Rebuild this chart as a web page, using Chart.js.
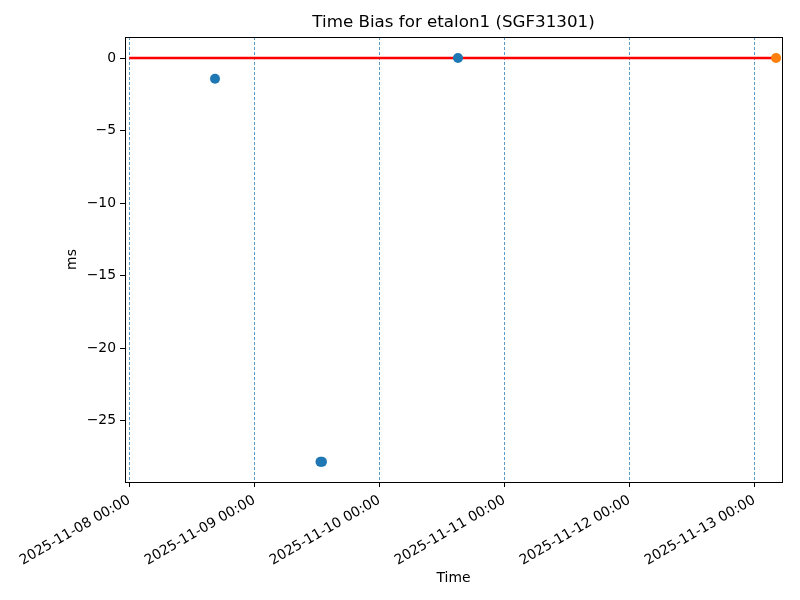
<!DOCTYPE html>
<html lang="en">
<head>
  <meta charset="UTF-8">
  <title>Time Bias for etalon1 (SGF31301)</title>
  <script src="https://cdn.jsdelivr.net/npm/chart.js"></script>
  <style>
    body { margin: 0; background: #fff; }
    #wrap { width: 800px; height: 600px; }
  </style>
</head>
<body>
  <div id="wrap"><canvas id="biasChart" width="800" height="600"></canvas></div>

  <script>
    // data (UTC times, ms)
    const blueTimes = ['2025-11-08T16:28', '2025-11-09T12:43', '2025-11-09T13:00', '2025-11-10T15:07'];
    const blueBias = [-1.43, -27.85, -27.85, 0.0];
    const orangeTimes = ['2025-11-13T04:11'];
    const orangeBias = [0.0];
    const refTimes = ['2025-11-08T00:00', '2025-11-13T04:11'];
    const refBias = [0, 0];
    const xTickLabels = ['2025-11-08 00:00', '2025-11-09 00:00', '2025-11-10 00:00',
                         '2025-11-11 00:00', '2025-11-12 00:00', '2025-11-13 00:00'];
    const yTickValues = [0, -5, -10, -15, -20, -25];

    const DAY = 86400000;
    const t = s => Date.parse(s + ':00Z');
    const pts = (xs, ys) => xs.map((x, i) => ({ x: t(x), y: ys[i] }));
    const xTickValues = xTickLabels.map(s => t(s.replace(' ', 'T')));

    const fmt = v => {
      const d = new Date(v);
      const p = n => String(n).padStart(2, '0');
      return d.getUTCFullYear() + '-' + p(d.getUTCMonth() + 1) + '-' + p(d.getUTCDate()) +
        ' ' + p(d.getUTCHours()) + ':' + p(d.getUTCMinutes());
    };

    const FONT = 'DejaVu Sans';

    // frame on all four sides + title
    const framePlugin = {
      id: 'frame',
      afterDraw(chart) {
        const { ctx, chartArea: a } = chart;
        ctx.save();
        ctx.strokeStyle = '#000';
        ctx.lineWidth = 1;
        ctx.strokeRect(Math.round(a.left) + 0.5, Math.round(a.top) + 0.5,
                       Math.round(a.right - a.left), Math.round(a.bottom - a.top));
        ctx.fillStyle = '#000';
        ctx.font = '16.7px "' + FONT + '"';
        ctx.textAlign = 'center';
        ctx.textBaseline = 'middle';
        ctx.fillText('Time Bias for etalon1 (SGF31301)', (a.left + a.right) / 2, 23);
        ctx.restore();
      }
    };

    const x0 = t('2025-11-08T00:00');

    new Chart(document.getElementById('biasChart'), {
      type: 'scatter',
      data: {
        datasets: [
          {
            label: 'zero',
            data: pts(refTimes, refBias),
            showLine: true,
            borderColor: '#ff0000',
            borderWidth: 2.6,
            pointRadius: 0,
            order: 3
          },
          {
            label: 'bias',
            data: pts(blueTimes, blueBias),
            backgroundColor: '#1f77b4',
            borderColor: '#1f77b4',
            pointRadius: 5,
            borderWidth: 0,
            order: 1
          },
          {
            label: 'latest',
            data: pts(orangeTimes, orangeBias),
            backgroundColor: '#ff7f0e',
            borderColor: '#ff7f0e',
            pointRadius: 5,
            borderWidth: 0,
            order: 2
          }
        ]
      },
      options: {
        responsive: false,
        animation: false,
        layout: { padding: { top: 37, left: 60, right: 18, bottom: 9 } },
        plugins: {
          legend: { display: false },
          tooltip: { enabled: false }
        },
        scales: {
          x: {
            type: 'linear',
            min: x0 - 0.034 * DAY,
            max: x0 + 5.222 * DAY,
            afterBuildTicks: s => { s.ticks = xTickValues.map(v => ({ value: v })); },
            afterFit: s => { s.height = 109; },
            grid: {
              color: 'rgba(31,119,180,0.75)',
              lineWidth: 1,
              tickColor: '#000',
              tickLength: 5,
              tickWidth: 1
            },
            border: { display: false, dash: [3, 2] },
            ticks: {
              color: '#000',
              font: { family: FONT, size: 13.9 },
              minRotation: 30,
              maxRotation: 30,
              autoSkip: false,
              padding: 5,
              callback: v => fmt(v)
            },
            title: {
              display: true,
              text: 'Time',
              color: '#000',
              font: { family: FONT, size: 13.9 },
              padding: { top: 4, bottom: 4 }
            }
          },
          y: {
            min: -29.24,
            max: 1.45,
            afterBuildTicks: s => { s.ticks = yTickValues.map(v => ({ value: v })); },
            afterFit: s => { s.width = 65; },
            grid: {
              drawOnChartArea: false,
              tickColor: '#000',
              tickLength: 5,
              tickWidth: 1
            },
            border: { display: false },
            ticks: {
              color: '#000',
              font: { family: FONT, size: 13.9 },
              padding: 4,
              callback: v => String(v).replace('-', '\u2212')
            },
            title: {
              display: true,
              text: 'ms',
              color: '#000',
              font: { family: FONT, size: 13.9 },
              padding: { top: 4, bottom: 4 }
            }
          }
        }
      },
      plugins: [framePlugin]
    });
  </script>
</body>
</html>
